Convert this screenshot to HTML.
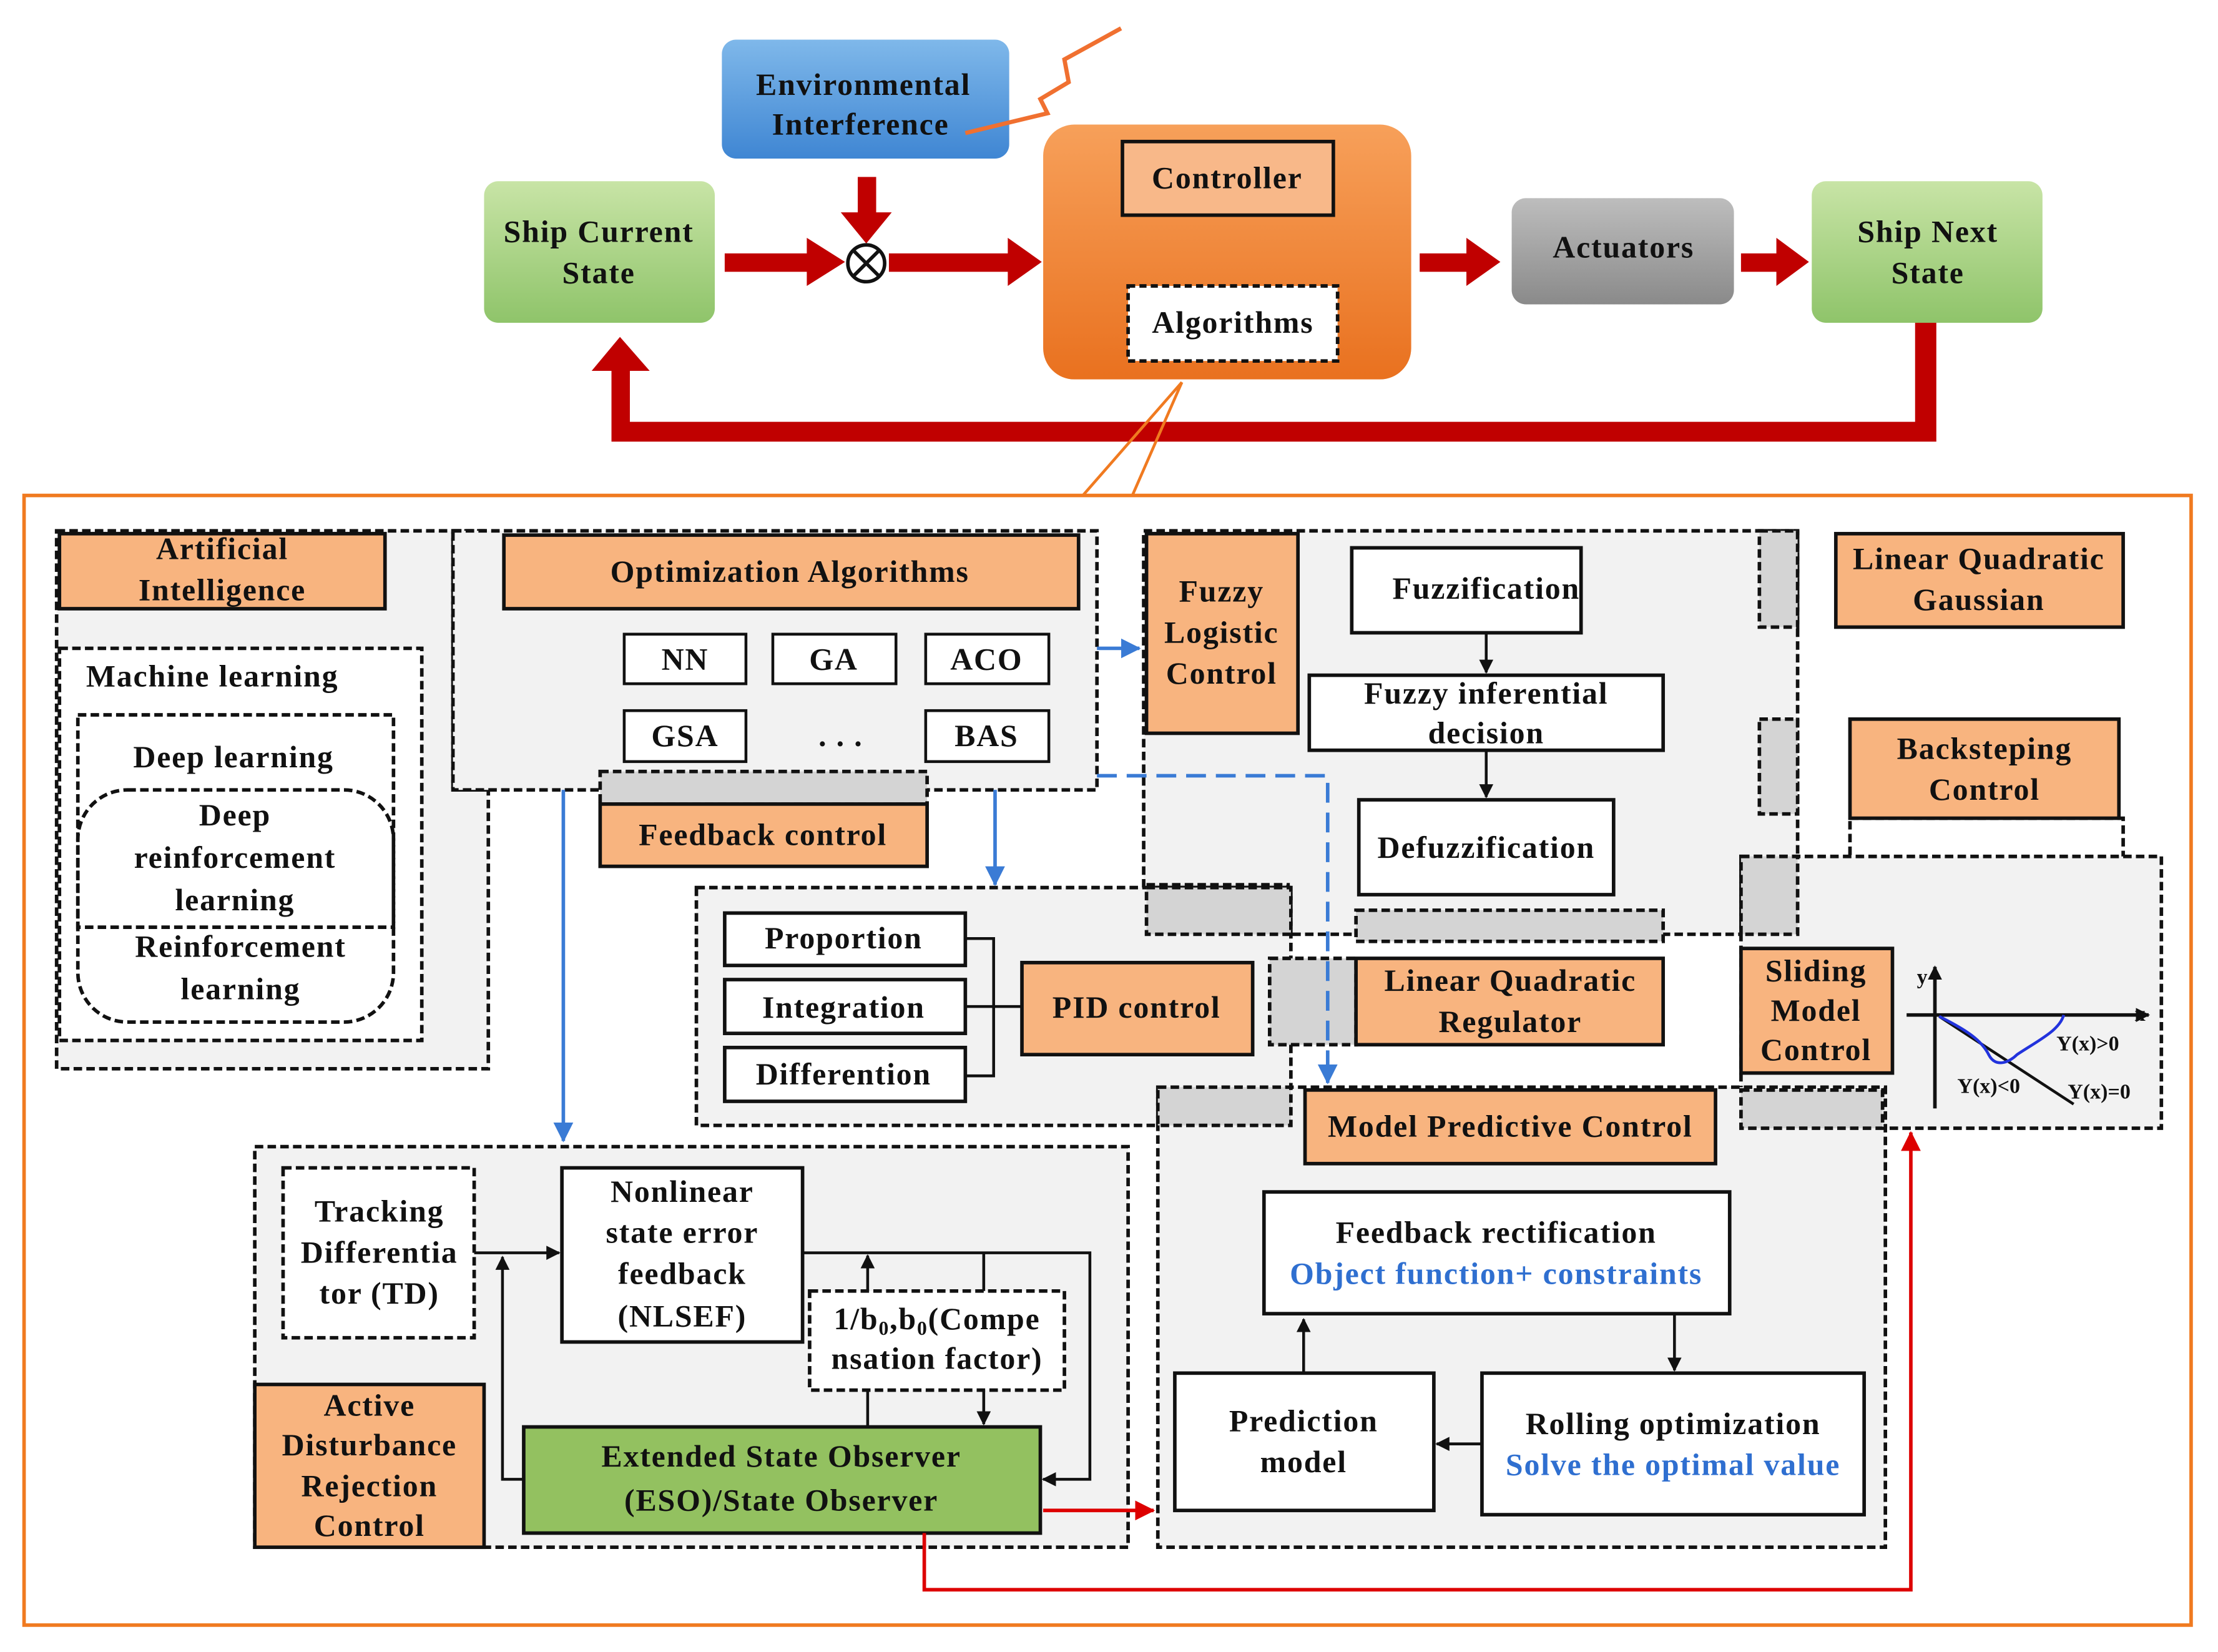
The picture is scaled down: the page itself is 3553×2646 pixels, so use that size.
<!DOCTYPE html>
<html><head><meta charset="utf-8"><style>
html,body{margin:0;padding:0;background:#fff;}
svg{display:block;}
text{font-family:"Liberation Serif",serif;font-weight:bold;fill:#111;}
</style></head><body>
<svg width="3553" height="2646" viewBox="0 0 1567 1167" preserveAspectRatio="none" xmlns="http://www.w3.org/2000/svg">
<defs>
<marker id="ar" markerWidth="10" markerHeight="10" refX="9" refY="5" orient="auto" markerUnits="userSpaceOnUse"><path d="M0,0 L10,5 L0,10 z" fill="#111"/></marker>
<marker id="ab" markerWidth="14" markerHeight="14" refX="13" refY="7" orient="auto" markerUnits="userSpaceOnUse"><path d="M0,0 L14,7 L0,14 z" fill="#3a7bd5"/></marker>
<marker id="arr" markerWidth="14" markerHeight="14" refX="13" refY="7" orient="auto" markerUnits="userSpaceOnUse"><path d="M0,0 L14,7 L0,14 z" fill="#d00"/></marker>
<linearGradient id="gb" x1="0" y1="0" x2="0" y2="1"><stop offset="0" stop-color="#7fb8ea"/><stop offset="1" stop-color="#3f86d3"/></linearGradient>
<linearGradient id="gg" x1="0" y1="0" x2="0" y2="1"><stop offset="0" stop-color="#c8e4a6"/><stop offset="1" stop-color="#8fc46a"/></linearGradient>
<linearGradient id="go" x1="0" y1="0" x2="0" y2="1"><stop offset="0" stop-color="#f7a05a"/><stop offset="1" stop-color="#e9711f"/></linearGradient>
<linearGradient id="ga" x1="0" y1="0" x2="0" y2="1"><stop offset="0" stop-color="#bdbdbd"/><stop offset="1" stop-color="#8a8a8a"/></linearGradient>
</defs>
<g font-size="22" letter-spacing="0.8" text-anchor="middle">
<rect x="510" y="28" width="203" height="84" rx="10" fill="url(#gb)"/>
<text x="610" y="67">Environmental</text><text x="608" y="95">Interference</text>
<polyline points="792,20 752,42 755,58 735,70 740,80 682,94" fill="none" stroke="#f07030" stroke-width="3"/>
<rect x="342" y="128" width="163" height="100" rx="10" fill="url(#gg)"/>
<text x="423" y="171">Ship Current</text><text x="423" y="200">State</text>
<rect x="1280" y="128" width="163" height="100" rx="10" fill="url(#gg)"/>
<text x="1362" y="171">Ship Next</text><text x="1362" y="200">State</text>
<rect x="737" y="88" width="260" height="180" rx="22" fill="url(#go)"/>
<rect x="793" y="100" width="149" height="52" fill="#f8b889" stroke="#111" stroke-width="2.5"/>
<text x="867" y="133">Controller</text>
<rect x="797" y="202" width="148" height="53" fill="#fff" stroke="#111" stroke-width="2.5" stroke-dasharray="5,3"/>
<text x="871" y="235">Algorithms</text>
<rect x="1068" y="140" width="157" height="75" rx="10" fill="url(#ga)"/>
<text x="1147" y="182">Actuators</text>
<g fill="#c00000" stroke="none">
<rect x="512" y="179" width="60" height="13"/><polygon points="570,168 597,185 570,202"/>
<rect x="628" y="179" width="85" height="13"/><polygon points="712,168 736,185 712,202"/>
<rect x="606" y="125" width="13" height="28"/><polygon points="594,150 630,150 612,172"/>
<rect x="1003" y="179" width="35" height="13"/><polygon points="1036,168 1060,185 1036,202"/>
<rect x="1230" y="179" width="27" height="13"/><polygon points="1255,168 1278,185 1255,202"/>
<polygon points="1353,228 1368,228 1368,312 432,312 432,258 445,258 445,298 1353,298"/>
<polygon points="418,262 459,262 438,238"/>
</g>
<circle cx="612" cy="186" r="13" fill="#fff" stroke="#111" stroke-width="2.5"/>
<path d="M603,177 L621,195 M621,177 L603,195" stroke="#111" stroke-width="2.5"/>
<path d="M835,270 L765,350 M835,270 L800,350" stroke="#f07a20" stroke-width="2" fill="none"/>
<rect x="17" y="350" width="1531" height="798" fill="none" stroke="#f07a20" stroke-width="2.5"/>

<g stroke="#111" stroke-width="2.5" stroke-dasharray="6,3">
<rect x="40" y="375" width="305" height="380" fill="#f2f2f2"/>
<rect x="320" y="375" width="25" height="183" fill="#d4d4d4"/>
<rect x="320" y="375" width="455" height="183" fill="#f2f2f2"/>
<rect x="42" y="458" width="256" height="277" fill="#fff"/>
<rect x="55" y="505" width="223" height="150" fill="#fff"/>
<rect x="55" y="558" width="223" height="164" rx="35" fill="none"/>
<rect x="424" y="545" width="231" height="23" fill="#d4d4d4"/>
<rect x="808" y="375" width="462" height="285" fill="#f2f2f2"/>
<rect x="810" y="625" width="100" height="35" fill="#d4d4d4"/>
<rect x="1243" y="375" width="27" height="68" fill="#d4d4d4"/>
<rect x="1243" y="508" width="27" height="67" fill="#d4d4d4"/>
<rect x="1307" y="578" width="193" height="45" fill="#fff"/>
<rect x="1230" y="605" width="297" height="192" fill="#f2f2f2"/>
<rect x="1230" y="605" width="40" height="55" fill="#d4d4d4"/>
<rect x="1230" y="770" width="100" height="27" fill="#d4d4d4"/>
<rect x="958" y="643" width="217" height="22" fill="#d4d4d4"/>
<rect x="492" y="627" width="420" height="168" fill="#f2f2f2"/>
<rect x="810" y="627" width="102" height="33" fill="#d4d4d4"/>
<rect x="897" y="677" width="61" height="61" fill="#d4d4d4"/>
<rect x="818" y="768" width="514" height="325" fill="#f2f2f2"/>
<rect x="818" y="768" width="94" height="27" fill="#d4d4d4"/>
<rect x="1230" y="770" width="100" height="27" fill="#d4d4d4"/>
<rect x="180" y="810" width="617" height="283" fill="#f2f2f2"/>
<rect x="200" y="825" width="135" height="120" fill="#fff"/>
</g>
<g stroke="#111" stroke-width="2.5">
<rect x="42" y="377" width="230" height="53" fill="#f8b47f"/>
<rect x="356" y="378" width="406" height="52" fill="#f8b47f"/>
<rect x="424" y="568" width="231" height="44" fill="#f8b47f"/>
<rect x="810" y="377" width="107" height="141" fill="#f8b47f"/>
<rect x="1297" y="377" width="203" height="66" fill="#f8b47f"/>
<rect x="1307" y="508" width="190" height="70" fill="#f8b47f"/>
<rect x="1230" y="670" width="107" height="88" fill="#f8b47f"/>
<rect x="722" y="680" width="163" height="65" fill="#f8b47f"/>
<rect x="958" y="677" width="217" height="61" fill="#f8b47f"/>
<rect x="922" y="770" width="290" height="52" fill="#f8b47f"/>
<rect x="180" y="978" width="162" height="115" fill="#f8b47f"/>
<rect x="370" y="1008" width="365" height="75" fill="#93c160"/>
<g fill="#fff" stroke-width="2">
<rect x="441" y="448" width="86" height="35"/><rect x="546" y="448" width="87" height="35"/><rect x="654" y="448" width="87" height="35"/>
<rect x="441" y="502" width="86" height="36"/><rect x="654" y="502" width="87" height="36"/>
</g>
<rect x="955" y="387" width="162" height="60" fill="#fff"/>
<rect x="925" y="477" width="250" height="53" fill="#fff"/>
<rect x="960" y="565" width="180" height="67" fill="#fff"/>
<rect x="512" y="645" width="170" height="37" fill="#fff"/>
<rect x="512" y="692" width="170" height="38" fill="#fff"/>
<rect x="512" y="740" width="170" height="38" fill="#fff"/>
<rect x="893" y="842" width="329" height="86" fill="#fff"/>
<rect x="830" y="970" width="183" height="97" fill="#fff"/>
<rect x="1047" y="970" width="270" height="100" fill="#fff"/>
<rect x="397" y="825" width="170" height="123" fill="#fff"/>
</g>
<g stroke="#111" stroke-width="2" fill="none">
<path d="M1050,447 V475" marker-end="url(#ar)"/>
<path d="M1050,530 V563" marker-end="url(#ar)"/>
<path d="M682,663 H702 V760 H682 M682,711 H722"/>
<path d="M921,970 V932" marker-end="url(#ar)"/>
<path d="M1183,928 V968" marker-end="url(#ar)"/>
<path d="M1047,1020 H1015" marker-end="url(#ar)"/>
<path d="M335,885 H395" marker-end="url(#ar)"/>
<path d="M370,1045 H355 V888" marker-end="url(#ar)"/>
<path d="M567,885 H770 V1045 H737" marker-end="url(#ar)"/>
<path d="M613,1008 V887" marker-end="url(#ar)"/>
<path d="M695,885 V912 M695,982 V1006" marker-end="url(#ar)"/>
<path d="M1347,717 H1518" stroke-width="2.5" marker-end="url(#ar)"/>
<path d="M1367,783 V683" stroke-width="2.5" marker-end="url(#ar)"/>
<path d="M1370,718 L1465,780"/>
</g>
<rect x="572" y="912" width="180" height="70" fill="#fff" stroke="#111" stroke-width="2.5" stroke-dasharray="6,3"/>
<path d="M1370,718 C1390,728 1400,735 1405,745 C1410,755 1420,750 1425,745 C1440,735 1455,728 1458,717" stroke="#2233dd" stroke-width="2" fill="none"/>
<g stroke="#3a7bd5" stroke-width="2.5" fill="none">
<path d="M775,458 H805" marker-end="url(#ab)"/>
<path d="M398,558 V806" marker-end="url(#ab)"/>
<path d="M703,558 V625" marker-end="url(#ab)"/>
<path d="M775,548 H938 V765" stroke-dasharray="14,7" marker-end="url(#ab)"/>
</g>
<g stroke="#d00" stroke-width="2.5" fill="none">
<path d="M737,1067 H815" marker-end="url(#arr)"/>
<path d="M653,1083 V1123 H1350 V800" marker-end="url(#arr)"/>
</g>
<text x="157" y="395">Artificial</text><text x="157" y="424">Intelligence</text>
<text x="150" y="485">Machine learning</text>
<text x="165" y="542">Deep learning</text>
<text x="166" y="583">Deep</text><text x="166" y="613">reinforcement</text><text x="166" y="643">learning</text>
<text x="170" y="676">Reinforcement</text><text x="170" y="706">learning</text>
<text x="558" y="411">Optimization Algorithms</text>
<text x="484" y="473">NN</text><text x="589" y="473">GA</text><text x="697" y="473">ACO</text>
<text x="484" y="527">GSA</text><text x="594" y="527">. . .</text><text x="697" y="527">BAS</text>
<text x="539" y="597">Feedback control</text>
<text x="863" y="425">Fuzzy</text><text x="863" y="454">Logistic</text><text x="863" y="483">Control</text>
<text x="1050" y="423">Fuzzification</text>
<text x="1050" y="497">Fuzzy inferential</text><text x="1050" y="525">decision</text>
<text x="1050" y="606">Defuzzification</text>
<text x="1398" y="402">Linear Quadratic</text><text x="1398" y="431">Gaussian</text>
<text x="1402" y="536">Backsteping</text><text x="1402" y="565">Control</text>
<text x="1283" y="693">Sliding</text><text x="1283" y="721">Model</text><text x="1283" y="749">Control</text>
<text x="596" y="670">Proportion</text><text x="596" y="719">Integration</text><text x="596" y="766">Differention</text>
<text x="803" y="719">PID control</text>
<text x="1067" y="700">Linear Quadratic</text><text x="1067" y="729">Regulator</text>
<text x="1067" y="803">Model Predictive Control</text>
<text x="1057" y="878">Feedback rectification</text>
<text x="1057" y="907" style="fill:#2f6fd0">Object function+ constraints</text>
<text x="921" y="1011">Prediction</text><text x="921" y="1040">model</text>
<text x="1182" y="1013">Rolling optimization</text>
<text x="1182" y="1042" style="fill:#2f6fd0">Solve the optimal value</text>
<text x="268" y="863">Tracking</text><text x="268" y="892">Differentia</text><text x="268" y="921">tor (TD)</text>
<text x="482" y="849">Nonlinear</text><text x="482" y="878">state error</text><text x="482" y="907">feedback</text><text x="482" y="937">(NLSEF)</text>
<text x="662" y="939">1/b<tspan font-size="14" dy="4">0</tspan><tspan dy="-4">,b</tspan><tspan font-size="14" dy="4">0</tspan><tspan dy="-4">(Compe</tspan></text>
<text x="662" y="967">nsation factor)</text>
<text x="261" y="1000">Active</text><text x="261" y="1028">Disturbance</text><text x="261" y="1057">Rejection</text><text x="261" y="1085">Control</text>
<text x="552" y="1036">Extended State Observer</text><text x="552" y="1067">(ESO)/State Observer</text>
<g font-size="15" letter-spacing="0" style="font-weight:normal">
<text x="1358" y="695">y</text><text x="1512" y="721">x</text>
<text x="1475" y="742">Y(x)&gt;0</text><text x="1405" y="772">Y(x)&lt;0</text><text x="1483" y="776">Y(x)=0</text>
</g>
</g>
</svg>
</body></html>
